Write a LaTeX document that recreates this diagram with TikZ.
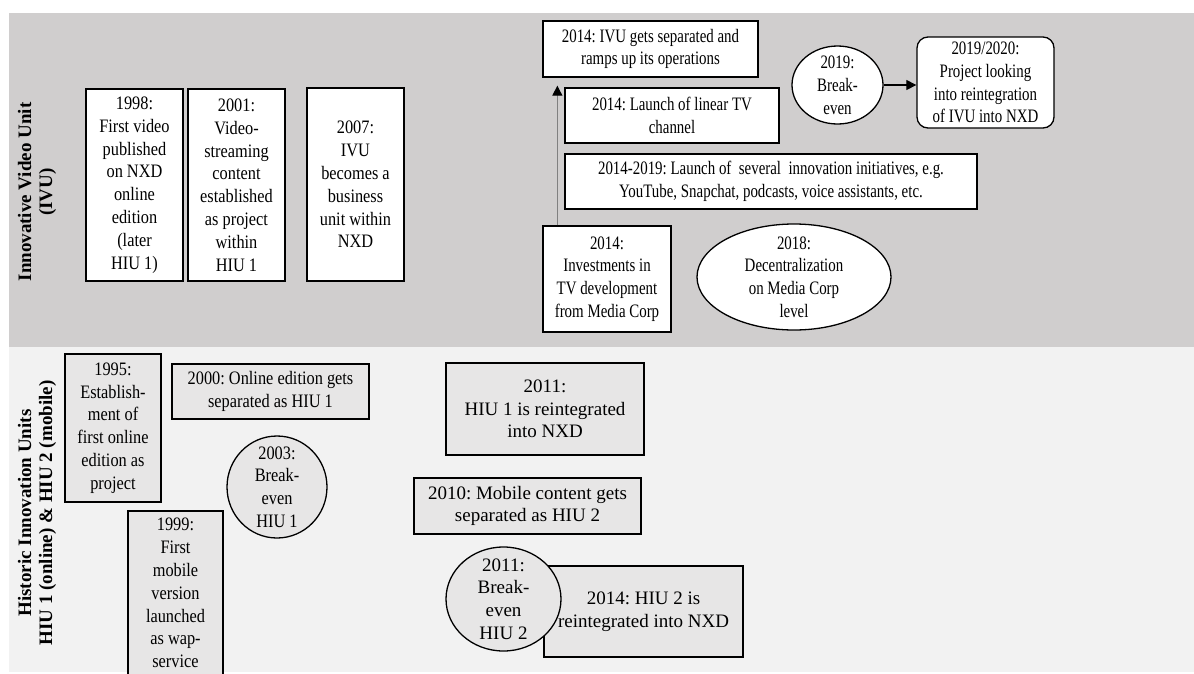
\documentclass[tikz,border=0pt]{standalone}
\usepackage{fontspec}
\setmainfont[FakeStretch=0.86]{Liberation Serif}
\newfontfamily\nfont[FakeStretch=0.785]{Liberation Serif}
\newfontfamily\wfont{Liberation Serif}
\newfontfamily\labfont{Liberation Serif}
\usetikzlibrary{arrows.meta,shapes.geometric}
\definecolor{bandtop}{HTML}{D0CECE}
\definecolor{bandbot}{HTML}{F2F2F2}
\definecolor{boxbot}{HTML}{E7E6E6}
\definecolor{arrgray}{HTML}{808080}
\begin{document}
\frenchspacing
\begin{tikzpicture}[x=1pt,y=-1pt,
  every node/.style={font=\fontsize{19}{22.8}\selectfont, align=center, inner sep=0pt},
  ntext/.style={font=\nfont\fontsize{19}{22.8}\selectfont},
  wtext/.style={font=\wfont\fontsize{19}{22.6}\selectfont},
  topbox/.style={draw=black, line width=1.3pt, fill=white},
  botbox/.style={draw=black, line width=1.3pt, fill=boxbot},
  topell/.style={ellipse, draw=black, line width=1.3pt, fill=white},
  botell/.style={ellipse, draw=black, line width=1.3pt, fill=boxbot},
  sidelabel/.style={rotate=90, font=\labfont\bfseries\fontsize{19}{21}\selectfont},
  conn/.style={line width=1.1pt, -{Triangle[length=10pt,width=10pt,color=black]}}
]
\useasboundingbox (0,0) rectangle (1194,673);
\fill[bandtop] (9,13) rectangle (1194,347);
\fill[bandbot] (9,347) rectangle (1194,672);

% side labels
\node[sidelabel] (ivu) at (37,192) {Innovative Video Unit\\(IVU)};
\node[sidelabel] (hiu) at (37,513) {Historic Innovation Units\\HIU 1 (online) \& HIU 2 (mobile)};

% top band
\node[topbox, minimum width=97, minimum height=192] (b1998) at (134.5,185) {1998:\\First video\\published\\on NXD\\online\\edition\\(later\\HIU 1)};
\node[topbox, minimum width=97, minimum height=192] (b2001) at (236.5,185) {2001:\\Video-\\streaming\\content\\established\\as project\\within\\HIU 1};
\node[topbox, minimum width=97, minimum height=193] (b2007) at (355.5,184.5) {2007:\\IVU\\becomes a\\business\\unit within\\NXD};
\node[topbox, ntext, minimum width=215, minimum height=56] (s2014) at (650.5,49) {2014: IVU gets separated and\\ramps up its operations};
\node[topbox, ntext, minimum width=214, minimum height=55] (l2014) at (672,115.5) {2014: Launch of linear TV\\channel};
\node[topbox, ntext, minimum width=412, minimum height=55] (i2014) at (771,181.5) {2014-2019: Launch of\ \ several\ \ innovation initiatives, e.g.\\YouTube, Snapchat, podcasts, voice assistants, etc.};
\node[topbox, ntext, minimum width=128, minimum height=106] (inv2014) at (607,279) {2014:\\Investments in\\TV development\\from Media Corp};
\node[topell, minimum width=194, minimum height=106, label={[align=center, ntext]center:2018:\\Decentralization\\on Media Corp\\level}] (e2018) at (794,277) {};
\node[topell, minimum width=91, minimum height=78, label={[align=center, ntext]center:2019:\\Break-\\even}] (e2019) at (837.5,85) {};
\node[topbox, ntext, rounded corners=11pt, minimum width=137, minimum height=91] (r2020) at (985.5,82.5) {2019/2020:\\Project looking\\into reintegration\\of IVU into NXD};

\draw[conn, arrgray] ([xshift=15pt]inv2014.north west) -- ([xshift=15pt,yshift=-8pt]s2014.south west);
\draw[conn, black] (e2019.east) -- (e2019.east -| r2020.west);

% bottom band
\node[botbox, minimum width=96, minimum height=148] (b1995) at (113,428) {1995:\\Establish-\\ment of\\first online\\edition as\\project};
\node[botbox, minimum width=197, minimum height=55] (b2000) at (270.5,391.5) {2000: Online edition gets\\separated as HIU 1};
\node[botell, minimum width=100, minimum height=102, label={[align=center]center:2003:\\Break-\\even\\HIU 1}] (c2003) at (277,487) {};
\node[botbox, minimum width=95, minimum height=164] (b1999) at (175.5,593) {1999:\\First\\mobile\\version\\launched\\as wap-\\service};
\node[botbox, wtext, minimum width=198, minimum height=92] (b2011) at (545,409) {2011:\\HIU 1 is reintegrated\\into NXD};
\node[botbox, wtext, minimum width=227, minimum height=56] (b2010) at (527.5,506) {2010: Mobile content gets\\separated as HIU 2};
\node[botbox, wtext, minimum width=199, minimum height=91] (b2014h) at (643.5,611.5) {2014: HIU 2 is\\reintegrated into NXD};
\node[botell, minimum width=115, minimum height=104, label={[align=center, wtext]center:2011:\\Break-\\even\\HIU 2}] (c2011) at (503.5,599) {};
\end{tikzpicture}
\end{document}
